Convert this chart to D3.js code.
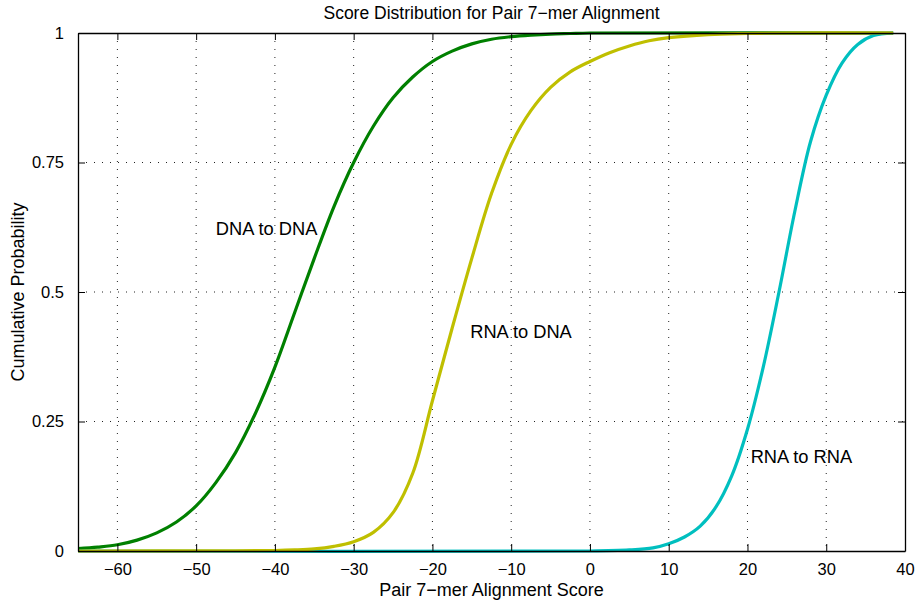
<!DOCTYPE html>
<html>
<head>
<meta charset="utf-8">
<script src="https://cdn.jsdelivr.net/npm/d3@7"></script>
<style>
  html, body { margin: 0; padding: 0; background: #fff; }
  svg { display: block; font-family: "Liberation Sans", Arial, Helvetica, sans-serif; }
</style>
</head>
<body>
<svg id="chart" width="917" height="604"></svg>
<script>
// Cumulative probability of pair 7-mer alignment scores
const dnaDnaX = [-65, -62.5, -60, -57.5, -55, -52.5, -50, -47.5, -45, -42.5, -40, -37.5, -35, -32.5, -30, -27.5, -25, -22.5, -20, -17.5, -15, -12.5, -10, -7.5, -5, -2.5, 0, 38.5];
const dnaDnaY = [0.0045, 0.0075, 0.012, 0.021, 0.035, 0.056, 0.087, 0.132, 0.19, 0.265, 0.355, 0.46, 0.565, 0.665, 0.75, 0.82, 0.875, 0.915, 0.945, 0.965, 0.979, 0.988, 0.993, 0.996, 0.998, 0.999, 1, 1];

const rnaDnaX = [-65, -45, -40, -37.5, -35, -32.5, -30, -27.5, -25, -22.5, -20, -17.5, -15, -12.5, -10, -7.5, -5, -2.5, 0, 2.5, 5, 7.5, 10, 15, 20, 25, 38.5];
const rnaDnaY = [0, 0.0005, 0.001, 0.002, 0.004, 0.009, 0.018, 0.036, 0.074, 0.15, 0.29, 0.43, 0.565, 0.69, 0.785, 0.85, 0.895, 0.925, 0.945, 0.962, 0.975, 0.985, 0.991, 0.997, 0.999, 1, 1];

const rnaRnaX = [-65, 0, 5, 8, 10, 12, 14, 16, 18, 20, 22, 24, 26, 28, 30, 32, 34, 36, 38.5];
const rnaRnaY = [0, 0, 0.002, 0.006, 0.014, 0.027, 0.048, 0.085, 0.145, 0.235, 0.355, 0.5, 0.655, 0.79, 0.88, 0.942, 0.978, 0.995, 1];

const xTicks = [-60, -50, -40, -30, -20, -10, 0, 10, 20, 30, 40];
const yTicks = [0, 0.25, 0.5, 0.75, 1];
const yTickLabels = ["0", "0.25", "0.5", "0.75", "1"];

const seriesNames = ["DNA to DNA", "RNA to RNA", "RNA to DNA"];
const seriesColors = ["#008000", "#00bfbf", "#bfbf00"];
const labelAt = [[-47.5, 0.62], [20.4, 0.18], [-15.2, 0.42]];

const series = [
  { name: seriesNames[0], xs: dnaDnaX, ys: dnaDnaY, color: seriesColors[0], label: labelAt[0] },
  { name: seriesNames[1], xs: rnaRnaX, ys: rnaRnaY, color: seriesColors[1], label: labelAt[1] },
  { name: seriesNames[2], xs: rnaDnaX, ys: rnaDnaY, color: seriesColors[2], label: labelAt[2] }
];

const W = 917, H = 604;
const margin = { top: 33, right: 12, bottom: 53, left: 78 };
const iw = W - margin.left - margin.right;
const ih = H - margin.top - margin.bottom;

const svg = d3.select("#chart");
const g = svg.append("g").attr("transform", `translate(${margin.left},${margin.top})`);

const x = d3.scaleLinear().domain([-65, 40]).range([0, iw]);
const y = d3.scaleLinear().domain([0, 1]).range([ih, 0]);

// dotted grid
g.append("g").selectAll("line").data(xTicks.filter(t => t > -65 && t < 40)).join("line")
  .attr("x1", d => x(d)).attr("x2", d => x(d)).attr("y1", 0).attr("y2", ih)
  .attr("stroke", "#222").attr("stroke-width", 1).attr("stroke-dasharray", "1,7");
g.append("g").selectAll("line").data(yTicks.filter(t => t > 0 && t < 1)).join("line")
  .attr("x1", 0).attr("x2", iw).attr("y1", d => y(d)).attr("y2", d => y(d))
  .attr("stroke", "#222").attr("stroke-width", 1).attr("stroke-dasharray", "1,7");

// curves
const line = d3.line().x(d => x(d[0])).y(d => y(d[1])).curve(d3.curveCatmullRom.alpha(0.5));
svg.append("defs").append("clipPath").attr("id", "plotclip")
  .append("rect").attr("x", 0).attr("y", -3).attr("width", iw).attr("height", ih + 6);
series.forEach(s => {
  const pts = s.xs.map((v, i) => [v, s.ys[i]]);
  g.append("path").datum(pts)
    .attr("d", line)
    .attr("fill", "none")
    .attr("stroke", s.color)
    .attr("stroke-width", 3.2)
    .attr("stroke-linejoin", "round")
    .attr("clip-path", "url(#plotclip)");
});

// series labels
series.forEach(s => {
  g.append("text")
    .attr("x", x(s.label[0])).attr("y", y(s.label[1]))
    .attr("font-size", 18.3).attr("fill", "#000")
    .attr("dominant-baseline", "middle")
    .text(s.name);
});

// axes: bottom/left with labels, top/right tick marks only, ticks point inward
const tickLen = 7;
const fmtX = d => (d < 0 ? "\u2212" + Math.abs(d) : String(d));
const axB = g.append("g").attr("transform", `translate(0,${ih})`)
  .call(d3.axisBottom(x).tickValues(xTicks).tickSizeInner(-tickLen).tickSizeOuter(0).tickPadding(12).tickFormat(fmtX));
const axT = g.append("g")
  .call(d3.axisTop(x).tickValues(xTicks).tickSizeInner(-tickLen).tickSizeOuter(0).tickFormat(""));
const axL = g.append("g")
  .call(d3.axisLeft(y).tickValues(yTicks).tickSizeInner(-tickLen).tickSizeOuter(0).tickPadding(14)
    .tickFormat((d, i) => yTickLabels[i]));
const axR = g.append("g").attr("transform", `translate(${iw},0)`)
  .call(d3.axisRight(y).tickValues(yTicks).tickSizeInner(-tickLen).tickSizeOuter(0).tickFormat(""));

[axB, axT, axL, axR].forEach(a => {
  a.select(".domain").attr("stroke", "#000").attr("stroke-width", 1.3);
  a.selectAll(".tick line").attr("stroke", "#000").attr("stroke-width", 1);
  a.selectAll(".tick text").attr("font-size", 16.5).attr("fill", "#000")
    .attr("font-family", '"Liberation Sans", Arial, sans-serif');
});

// title and axis titles
svg.append("text").attr("x", margin.left + iw / 2).attr("y", 19)
  .attr("text-anchor", "middle").attr("font-size", 17.5).attr("fill", "#000")
  .text("Score Distribution for Pair 7\u2212mer Alignment");
svg.append("text").attr("x", margin.left + iw / 2).attr("y", 596)
  .attr("text-anchor", "middle").attr("font-size", 18).attr("fill", "#000")
  .text("Pair 7\u2212mer Alignment Score");
svg.append("text").attr("transform", `translate(24,${margin.top + ih / 2}) rotate(-90)`)
  .attr("text-anchor", "middle").attr("font-size", 18).attr("fill", "#000")
  .text("Cumulative Probability");
</script>
</body>
</html>
